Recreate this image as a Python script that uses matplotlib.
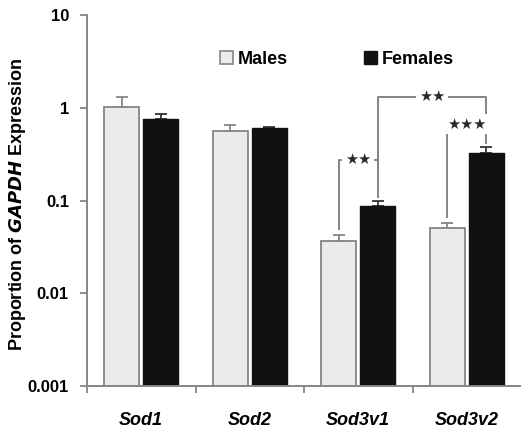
import numpy as np
import matplotlib.pyplot as plt
from matplotlib.patches import Patch
from matplotlib.font_manager import FontProperties

genes = ['Sod1', 'Sod2', 'Sod3v1', 'Sod3v2']
males = [1.02, 0.566, 0.0365, 0.051]
males_err = [0.29, 0.09, 0.006, 0.007]
females = [0.76, 0.61, 0.087, 0.323]
females_err = [0.10, 0.015, 0.011, 0.054]

# significance brackets: (x_left, x_right, y_top, y_left_end, y_right_end, label)
brackets = [
    (1.82, 2.18, 0.276, 0.049, 0.110, '★★'),
    (2.18, 3.18, 1.32, 0.276, 0.80, '★★'),
    (2.82, 3.18, 0.668, 0.066, 0.42, '★★★'),
]

plt.rcParams['font.family'] = ['Liberation Sans', 'DejaVu Sans']

gray = '#858585'
fig = plt.figure(figsize=(5.21, 4.29), dpi=100)
ax = fig.add_axes([0.167, 0.100, 0.833, 0.865])

x = np.arange(len(genes))
w = 0.32
ax.bar(x - 0.18, males, w, color='#ebebeb', edgecolor=gray, linewidth=1.3, zorder=2)
ax.bar(x + 0.18, females, w, color='#111111', edgecolor='#111111', linewidth=1.0, zorder=2)
ax.errorbar(x - 0.18, males, yerr=[np.zeros(4), males_err], fmt='none',
            ecolor=gray, elinewidth=1.3, capsize=4, capthick=1.3, zorder=1)
ax.errorbar(x + 0.18, females, yerr=[np.zeros(4), females_err], fmt='none',
            ecolor='#333333', elinewidth=1.3, capsize=4, capthick=1.3, zorder=1)

for xl, xr, yt, yl, yr, lab in brackets:
    ax.plot([xl, xl, xr, xr], [yl, yt, yt, yr], color=gray, lw=1.4, zorder=3)
    ax.text((xl + xr) / 2, yt, lab, ha='center', va='center', fontsize=10.5,
            color='#2a2a2a', family='DejaVu Sans', zorder=4,
            bbox=dict(facecolor='white', edgecolor='none', pad=2.0))

ax.set_yscale('log')
ax.set_ylim(0.001, 10)
ax.set_xlim(-0.5, 3.5)
ax.set_yticks([0.001, 0.01, 0.1, 1, 10])
ax.set_yticklabels(['0.001', '0.01', '0.1', '1', '10'], fontsize=12, fontweight='bold')
ax.minorticks_off()
ax.set_xticks(x)
ax.set_xticklabels(genes, fontsize=13, fontweight='bold', style='italic')
ax.set_xticks([-0.5, 0.5, 1.5, 2.5], minor=True)
ax.tick_params(axis='x', which='major', length=0, pad=19)
ax.tick_params(axis='x', which='minor', length=5, width=1.3, color=gray, direction='out')
ax.tick_params(axis='y', length=5, width=1.3, color=gray, pad=8)

for s in ['top', 'right']:
    ax.spines[s].set_visible(False)
for s in ['left', 'bottom']:
    ax.spines[s].set_color(gray)
    ax.spines[s].set_linewidth(1.4)

ax.set_ylabel('Proportion of $\\bfit{GAPDH}$ Expression', fontsize=13, fontweight='bold')
ax.yaxis.set_label_coords(-0.136, 0.49)

handles = [Patch(facecolor='#ebebeb', edgecolor=gray, linewidth=1.2, label='Males'),
           Patch(facecolor='#111111', edgecolor='#111111', label='Females')]
ax.legend(handles=handles, ncol=2, frameon=False, loc='center',
          bbox_to_anchor=(0.576, 0.881),
          prop=FontProperties(family='Liberation Sans', weight='bold', size=13),
          handlelength=0.75, handleheight=0.75, handletextpad=0.25, columnspacing=4.2)

fig.savefig('out.png', dpi=100)
